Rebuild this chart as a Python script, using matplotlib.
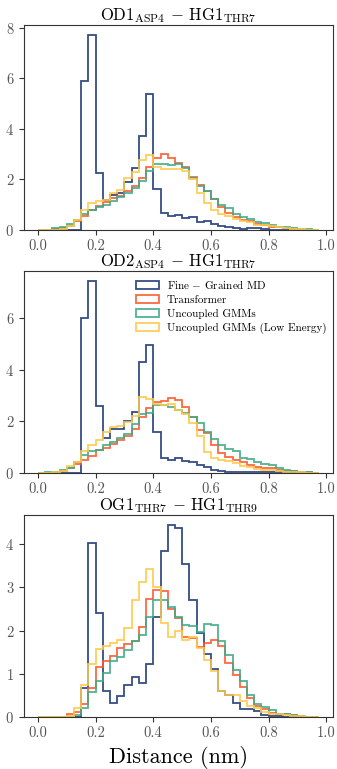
import matplotlib
matplotlib.use("Agg")
import matplotlib.pyplot as plt
import numpy as np

plt.rcParams['font.family'] = 'serif'
plt.rcParams['font.serif'] = ['cmr10']
plt.rcParams['mathtext.fontset'] = 'cm'
plt.rcParams['axes.formatter.use_mathtext'] = True

# bin edges (nm), 39 bins of 0.025
edges = np.arange(40) * 0.025

titles = [r'$\mathrm{OD1_{ASP4}}\,-\,\mathrm{HG1_{THR7}}$',
          r'$\mathrm{OD2_{ASP4}}\,-\,\mathrm{HG1_{THR7}}$',
          r'$\mathrm{OG1_{THR7}}\,-\,\mathrm{HG1_{THR9}}$']

labels = [r'$\mathrm{Fine}\,-\,\mathrm{Grained\ MD}$', 'Transformer', 'Uncoupled GMMs',
          'Uncoupled GMMs (Low Energy)']
colors = ['#1f3a78', '#fb5a2c', '#3eaa86', '#ffc84a']

# panel 1: OD1_ASP4 - HG1_THR7
fg_1 = [0, 0, 0, 0, 0, 0, 5.9, 7.72, 2.25, 1.2, 1.4, 1.45, 1.9, 2.45, 3.7, 5.37,
        1.62, 0.67, 0.55, 0.59, 0.47, 0.53, 0.32, 0.35, 0.24, 0.14, 0.13, 0.06,
        0.05, 0.06, 0.06, 0.03, 0.02, 0.01, 0, 0, 0, 0, 0]
tr_1 = [0.01, 0.01, 0.03, 0.06, 0.15, 0.35, 0.55, 0.8, 0.95, 1.1, 1.25, 1.35,
        1.55, 1.75, 2.05, 2.5, 2.85, 3.0, 2.83, 2.64, 2.49, 2.1, 1.77, 1.55, 1.23,
        0.9, 0.67, 0.53, 0.4, 0.35, 0.23, 0.2, 0.13, 0.1, 0.07, 0.04, 0.02, 0.01, 0.005]
gmm_1 = [0, 0.02, 0.07, 0.12, 0.25, 0.4, 0.65, 0.8, 0.9, 1.0, 1.15, 1.3, 1.45,
         1.65, 1.95, 2.33, 2.62, 2.6, 2.57, 2.6, 2.45, 2.07, 1.73, 1.53, 1.24, 0.97,
         0.87, 0.63, 0.53, 0.44, 0.32, 0.29, 0.2, 0.13, 0.1, 0.07, 0.05, 0.04, 0.02]
gmm_le_1 = [0.01, 0.01, 0.02, 0.05, 0.15, 0.4, 0.8, 1.05, 1.15, 1.2, 1.45, 1.6,
            2.05, 2.3, 2.75, 2.95, 2.5, 2.4, 2.4, 2.4, 2.35, 2.0, 1.45, 1.05, 0.8,
            0.65, 0.55, 0.45, 0.35, 0.3, 0.2, 0.18, 0.14, 0.1, 0.07, 0.05, 0.03, 0.02, 0.01]

# panel 2: OD2_ASP4 - HG1_THR7
fg_2 = [0, 0, 0, 0, 0, 0, 6.0, 7.45, 2.6, 1.35, 1.7, 1.7, 2.0, 2.35, 4.3, 4.95,
        1.6, 0.58, 0.5, 0.6, 0.48, 0.43, 0.31, 0.25, 0.12, 0.06, 0.05, 0.04, 0.04,
        0.04, 0.04, 0.03, 0.03, 0.02, 0.01, 0, 0, 0, 0]
tr_2 = [0.01, 0.01, 0.03, 0.08, 0.2, 0.36, 0.5, 0.65, 0.88, 0.97, 1.13, 1.26,
        1.45, 1.7, 2.17, 2.5, 2.75, 2.8, 2.92, 2.83, 2.57, 2.18, 1.66, 1.53, 1.08,
        0.76, 0.63, 0.5, 0.44, 0.31, 0.25, 0.18, 0.18, 0.12, 0.09, 0.08, 0.04, 0.02, 0.01]
gmm_2 = [0.01, 0.02, 0.05, 0.1, 0.2, 0.43, 0.7, 0.84, 0.88, 1.07, 1.2, 1.35, 1.52,
         1.9, 2.3, 2.32, 2.62, 2.62, 2.55, 2.44, 2.31, 2.15, 1.92, 1.6, 1.32, 1.08,
         0.92, 0.86, 0.6, 0.53, 0.44, 0.34, 0.31, 0.18, 0.12, 0.08, 0.05, 0.03, 0.01]
gmm_le_2 = [0.01, 0.01, 0.03, 0.07, 0.27, 0.43, 0.85, 1.1, 1.26, 1.58, 1.8, 1.82,
            1.97, 2.19, 2.94, 2.88, 2.68, 2.64, 2.66, 2.44, 2.27, 1.92, 1.43, 0.83,
            0.57, 0.5, 0.46, 0.37, 0.28, 0.25, 0.15, 0.12, 0.12, 0.08, 0.04, 0.04, 0.02, 0.01, 0]

# panel 3: OG1_THR7 - HG1_THR9
fg_3 = [0, 0, 0, 0, 0, 0, 0.67, 4.02, 2.4, 0.61, 0.33, 0.48, 0.75, 0.93, 0.79,
        1.23, 2.32, 3.83, 4.45, 4.37, 3.55, 2.7, 1.95, 1.46, 1.1, 0.6, 0.52, 0.33,
        0.19, 0.18, 0.14, 0.05, 0.03, 0.02, 0, 0, 0, 0, 0]
tr_3 = [0, 0, 0, 0, 0.06, 0.12, 0.3, 0.67, 1.15, 1.3, 1.4, 1.6, 1.69, 1.76, 2.09,
        2.73, 2.93, 2.91, 2.5, 2.28, 1.85, 1.83, 1.62, 1.72, 1.78, 1.65, 1.25, 0.97,
        0.7, 0.45, 0.25, 0.18, 0.1, 0.08, 0.06, 0.05, 0.02, 0.01, 0]
gmm_3 = [0, 0, 0, 0, 0.01, 0.05, 0.21, 0.57, 0.84, 1.02, 1.29, 1.38, 1.56, 1.76,
         1.9, 2.32, 2.7, 2.7, 2.54, 2.32, 2.13, 2.1, 1.96, 2.15, 2.12, 1.75, 1.44,
         1.08, 0.83, 0.52, 0.29, 0.24, 0.16, 0.08, 0.06, 0.05, 0.03, 0.01, 0]
gmm_le_3 = [0, 0, 0, 0, 0.03, 0.2, 0.75, 1.22, 1.57, 1.65, 1.71, 1.78, 2.05, 2.7,
            3.13, 3.42, 3.0, 2.18, 1.84, 1.99, 1.79, 1.84, 1.59, 1.33, 1.06, 0.61,
            0.52, 0.5, 0.37, 0.25, 0.21, 0.12, 0.08, 0.06, 0.05, 0.03, 0.02, 0.01, 0]

panels = [[fg_1, tr_1, gmm_1, gmm_le_1],
          [fg_2, tr_2, gmm_2, gmm_le_2],
          [fg_3, tr_3, gmm_3, gmm_le_3]]

centers = (edges[:-1] + edges[1:]) / 2

fig = plt.figure(figsize=(3.37, 7.69), dpi=100)
boxes = [[0.0712, 0.7009, 0.917, 0.2666],
         [0.0712, 0.3849, 0.917, 0.2627],
         [0.0712, 0.0676, 0.917, 0.2627]]

for p, series in enumerate(panels):
    ax = fig.add_axes(boxes[p])
    for vals, col, lab in zip(series, colors, labels):
        ax.hist(centers, bins=edges, weights=vals, histtype='step',
                color=col, lw=1.3, alpha=0.9, label=lab)
    ax.set_title(titles[p], fontsize=12, pad=3)
    ax.set_xticks([0.0, 0.2, 0.4, 0.6, 0.8, 1.0])
    ax.set_xticklabels(['0.0', '0.2', '0.4', '0.6', '0.8', '1.0'])
    ax.tick_params(labelsize=10.5, colors='#333333', labelcolor='#555555', length=3.5)
    for s in ax.spines.values():
        s.set_color('#333333')
    if p == 1:
        ax.legend(loc='upper right', fontsize=8, frameon=False,
                  handlelength=2.1, handletextpad=0.7, labelspacing=0.38,
                  borderaxespad=0.2)
    if p == 2:
        ax.set_xlabel('Distance (nm)', fontsize=16, labelpad=4)

fig.savefig('out.png', dpi=100)
